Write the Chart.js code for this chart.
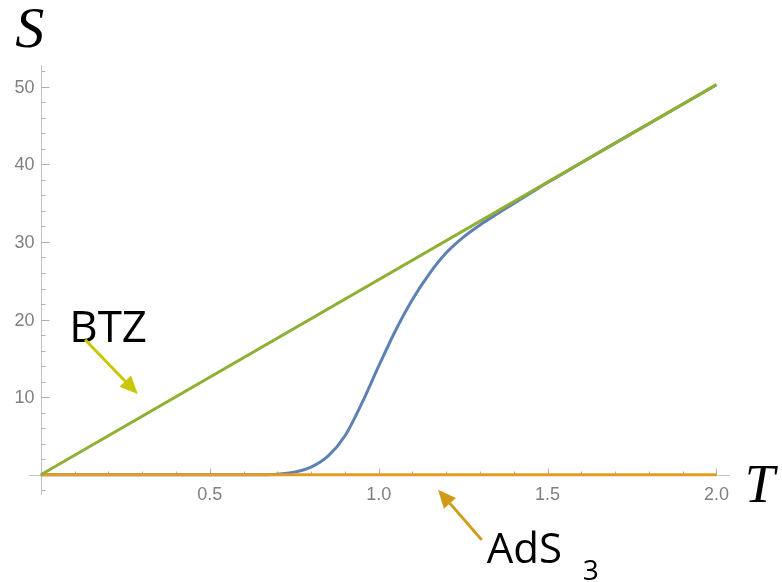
<!DOCTYPE html>
<html>
<head>
<meta charset="utf-8">
<title>S vs T</title>
<script src="https://cdn.jsdelivr.net/npm/chart.js@4.4.1/dist/chart.umd.min.js"></script>
<style>
  html, body { margin: 0; padding: 0; background: #fff; }
  #wrap { width: 782px; height: 582px; }
</style>
</head>
<body>
<div id="wrap"><canvas id="entropy-chart" width="782" height="582"></canvas></div>
<script>
// Entropy of the thermal state vs temperature
var temperature = [0, 0.6, 0.65, 0.7, 0.75, 0.8, 0.85, 0.9, 0.95, 1.0, 1.05, 1.1, 1.15, 1.2,
                   1.25, 1.3, 1.35, 1.4, 1.45, 1.5, 1.6, 1.7, 1.8, 1.9, 2.0];
var entropy = [0, 0, 0.01, 0.08, 0.35, 1.0, 2.4, 5.0, 9.2, 14.0, 18.6, 22.6, 25.9, 28.6,
               30.6, 32.2, 33.6, 34.95, 36.3, 37.65, 40.2, 42.73, 45.24, 47.75, 50.26];

// Limiting branches
var btzT = [0, 2.0];
var btzS = [0, 50.27];
var adsT = [0, 2.0];
var adsS = [0, 0];

// Axis ticks
var xTickLabels = ['0.5', '1.0', '1.5', '2.0'];
var xMajorTicks = [0.5, 1.0, 1.5, 2.0];
var yTickLabels = ['10', '20', '30', '40', '50'];
var yMajorTicks = [10, 20, 30, 40, 50];

(function() {
    'use strict';

    var AXIS_COLOR = '#c4c4c4';
    var TICK_COLOR = '#b0b0b0';
    var LABEL_COLOR = '#7f7f7f';

    function toPoints(xs, ys) {
        return xs.map(function(x, i) { return { x: x, y: ys[i] }; });
    }

    function minorTicks(from, to, step, majors) {
        var out = [];
        for (var v = from; v <= to + 1e-9; v += step) {
            var r = Math.round(v * 100) / 100;
            if (r !== 0 && majors.indexOf(r) < 0) out.push(r);
        }
        return out;
    }

    // Annotation placement, in data units
    var notes = {
        sLabel: { x: -0.076, y: 55.15 },
        tLabel: { x: 2.084, y: -3.48 },
        btzText: { x: 0.084, y: 17.14 },
        btzArrow: { from: { x: 0.131, y: 17.4 }, to: { x: 0.287, y: 10.4 } },
        adsText: { x: 1.32, y: -11.34 },
        adsSub: { x: 1.604, y: -13.53 },
        adsArrow: { from: { x: 1.305, y: -8.38 }, to: { x: 1.176, y: -1.93 } }
    };

    function arrow(ctx, x0, y0, x1, y1, color) {
        var ang = Math.atan2(y1 - y0, x1 - x0);
        var len = 18, half = 8;
        var bx = x1 - len * Math.cos(ang), by = y1 - len * Math.sin(ang);
        ctx.save();
        ctx.strokeStyle = color;
        ctx.fillStyle = color;
        ctx.lineWidth = 3;
        ctx.beginPath();
        ctx.moveTo(x0, y0);
        ctx.lineTo(bx, by);
        ctx.stroke();
        ctx.beginPath();
        ctx.moveTo(x1, y1);
        ctx.lineTo(bx + half * Math.sin(ang), by - half * Math.cos(ang));
        ctx.lineTo(bx - half * Math.sin(ang), by + half * Math.cos(ang));
        ctx.closePath();
        ctx.fill();
        ctx.restore();
    }

    // Axes drawn through the origin with inward ticks
    var crossAxes = {
        id: 'crossAxes',
        beforeDatasetsDraw: function(chart) {
            var ctx = chart.ctx, area = chart.chartArea;
            var xs = chart.scales.x, ys = chart.scales.y;
            var x0 = Math.round(xs.getPixelForValue(0)) + 0.5;
            var y0 = Math.round(ys.getPixelForValue(0)) + 0.5;

            ctx.save();
            ctx.lineWidth = 1;
            ctx.strokeStyle = AXIS_COLOR;
            ctx.beginPath();
            ctx.moveTo(area.left, y0); ctx.lineTo(area.right, y0);
            ctx.moveTo(x0, area.top); ctx.lineTo(x0, area.bottom);
            ctx.stroke();

            ctx.strokeStyle = TICK_COLOR;
            ctx.beginPath();
            minorTicks(0.1, 2.0, 0.1, xMajorTicks).forEach(function(v) {
                var px = Math.round(xs.getPixelForValue(v)) + 0.5;
                ctx.moveTo(px, y0); ctx.lineTo(px, y0 - 4);
            });
            xMajorTicks.forEach(function(v) {
                var px = Math.round(xs.getPixelForValue(v)) + 0.5;
                ctx.moveTo(px, y0); ctx.lineTo(px, y0 - 7);
            });
            minorTicks(-2, 52, 2, yMajorTicks).forEach(function(v) {
                var py = Math.round(ys.getPixelForValue(v)) + 0.5;
                ctx.moveTo(x0, py); ctx.lineTo(x0 + 4, py);
            });
            yMajorTicks.forEach(function(v) {
                var py = Math.round(ys.getPixelForValue(v)) + 0.5;
                ctx.moveTo(x0, py); ctx.lineTo(x0 + 8, py);
            });
            ctx.stroke();

            ctx.fillStyle = LABEL_COLOR;
            ctx.font = '18px "Liberation Sans", Arial, sans-serif';
            ctx.textAlign = 'center';
            ctx.textBaseline = 'top';
            xMajorTicks.forEach(function(v, i) {
                ctx.fillText(xTickLabels[i], xs.getPixelForValue(v), y0 + 11);
            });
            ctx.textAlign = 'right';
            ctx.textBaseline = 'middle';
            yMajorTicks.forEach(function(v, i) {
                ctx.fillText(yTickLabels[i], x0 - 7, ys.getPixelForValue(v) + 1);
            });
            ctx.restore();
        },
        afterDraw: function(chart) {
            var ctx = chart.ctx;
            var xs = chart.scales.x, ys = chart.scales.y;
            function px(p) { return xs.getPixelForValue(p.x); }
            function py(p) { return ys.getPixelForValue(p.y); }

            ctx.save();
            ctx.fillStyle = '#000';
            ctx.textBaseline = 'alphabetic';
            ctx.textAlign = 'left';

            ctx.font = 'italic 58px "Liberation Serif", "Times New Roman", serif';
            ctx.fillText('S', px(notes.sLabel), py(notes.sLabel));
            ctx.font = 'italic 54px "Liberation Serif", "Times New Roman", serif';
            ctx.fillText('T', px(notes.tLabel), py(notes.tLabel));

            ctx.font = '44px "Open Sans", sans-serif';
            ctx.fillText('BTZ', px(notes.btzText), py(notes.btzText));
            ctx.font = '42px "Open Sans", sans-serif';
            ctx.fillText('AdS', px(notes.adsText), py(notes.adsText));
            ctx.font = '28px "Open Sans", sans-serif';
            ctx.fillText('3', px(notes.adsSub), py(notes.adsSub));
            ctx.restore();

            var a = notes.btzArrow, b = notes.adsArrow;
            arrow(ctx, px(a.from), py(a.from), px(a.to), py(a.to), '#c9c800');
            arrow(ctx, px(b.from), py(b.from), px(b.to), py(b.to), '#d19b16');
        }
    };

    // lower order draws on top: BTZ over the crossover curve, AdS3 over its flat start
    new Chart(document.getElementById('entropy-chart').getContext('2d'), {
        type: 'line',
        data: {
            datasets: [
                {
                    label: 'BTZ',
                    data: toPoints(btzT, btzS),
                    borderColor: '#8fb032',
                    borderWidth: 3,
                    pointRadius: 0,
                    order: 0
                },
                {
                    label: 'AdS3',
                    data: toPoints(adsT, adsS),
                    borderColor: '#e19c24',
                    borderWidth: 3,
                    pointRadius: 0,
                    order: 1
                },
                {
                    label: 'S(T)',
                    data: toPoints(temperature, entropy),
                    borderColor: '#5e81b5',
                    borderWidth: 3,
                    pointRadius: 0,
                    cubicInterpolationMode: 'monotone',
                    order: 2
                }
            ]
        },
        options: {
            responsive: false,
            animation: false,
            devicePixelRatio: 1,
            layout: { padding: { left: 29, right: 52, top: 65, bottom: 87 } },
            plugins: {
                legend: { display: false },
                tooltip: { enabled: false }
            },
            scales: {
                x: { type: 'linear', min: -0.035, max: 2.04, display: false },
                y: { type: 'linear', min: -2.6, max: 52.8, display: false }
            }
        },
        plugins: [crossAxes]
    });
})();
</script>
</body>
</html>
